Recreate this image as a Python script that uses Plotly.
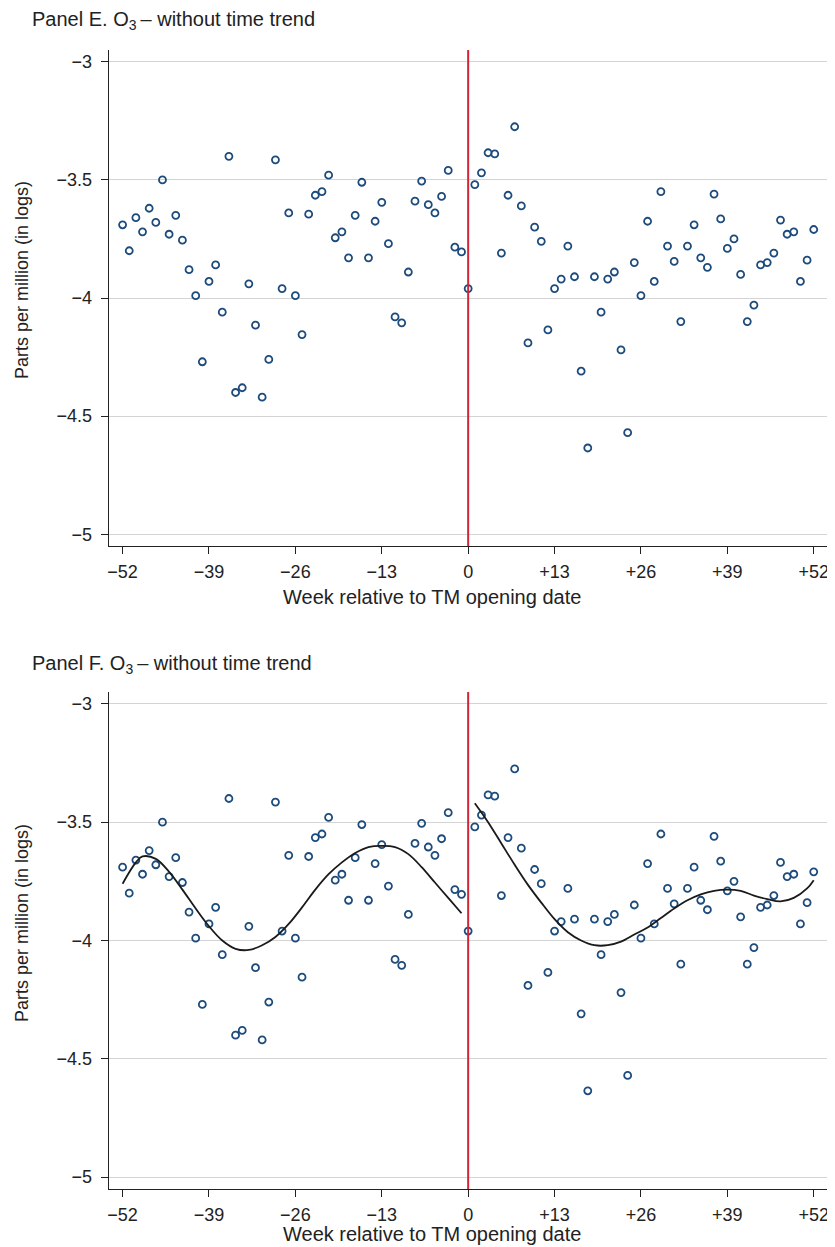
import plotly.graph_objects as go

# ---- data ----
weeks = list(range(-52, 53))
o3_log = [
    -3.69, -3.80, -3.66, -3.72, -3.62, -3.68, -3.50, -3.73, -3.65, -3.755,
    -3.88, -3.99, -4.27, -3.93, -3.86, -4.06, -3.40, -4.40, -4.38, -3.94,
    -4.115, -4.42, -4.26, -3.415, -3.96, -3.64, -3.99, -4.155, -3.645, -3.565,
    -3.55, -3.48, -3.745, -3.72, -3.83, -3.65, -3.51, -3.83, -3.675, -3.595,
    -3.77, -4.08, -4.105, -3.89, -3.59, -3.505, -3.605, -3.64, -3.57, -3.46,
    -3.785, -3.805,
    -3.96,
    -3.52, -3.47, -3.385, -3.39, -3.81, -3.565, -3.275, -3.61, -4.19, -3.70,
    -3.76, -4.135, -3.96, -3.92, -3.78, -3.91, -4.31, -4.635, -3.91, -4.06,
    -3.92, -3.89, -4.22, -4.57, -3.85, -3.99, -3.675, -3.93, -3.55, -3.78,
    -3.845, -4.10, -3.78, -3.69, -3.83, -3.87, -3.56, -3.665, -3.79, -3.75,
    -3.90, -4.10, -4.03, -3.86, -3.85, -3.81, -3.67, -3.73, -3.72, -3.93,
    -3.84, -3.71,
]

fit_pre_weeks = [-52, -50, -49, -47, -45, -43, -41, -39, -37, -35, -33, -31,
                 -29, -27, -25, -23, -21, -19, -17, -15, -13, -11, -9, -7,
                 -5, -3, -1]
fit_pre_vals = [-3.76, -3.67, -3.645, -3.655, -3.71, -3.785, -3.865, -3.94,
                -4.00, -4.035, -4.04, -4.02, -3.985, -3.93, -3.86, -3.785,
                -3.72, -3.67, -3.63, -3.605, -3.60, -3.605, -3.635, -3.69,
                -3.755, -3.82, -3.885]

fit_post_weeks = [1, 3, 5, 7, 9, 11, 13, 15, 17, 19, 21, 23, 25, 27, 29, 31,
                  33, 35, 37, 39, 41, 43, 45, 47, 49, 51, 52]
fit_post_vals = [-3.42, -3.50, -3.59, -3.68, -3.765, -3.84, -3.91, -3.965,
                 -4.00, -4.02, -4.02, -4.005, -3.975, -3.945, -3.905, -3.865,
                 -3.83, -3.805, -3.79, -3.785, -3.79, -3.81, -3.825, -3.835,
                 -3.82, -3.78, -3.745]

x_tickvals = [-52, -39, -26, -13, 0, 13, 26, 39, 52]
x_ticktext = ["\u221252", "\u221239", "\u221226", "\u221213", "0",
              "+13", "+26", "+39", "+52"]
y_tickvals = [-3, -3.5, -4, -4.5, -5]
y_ticktext = ["\u22123", "\u22123.5", "\u22124", "\u22124.5", "\u22125"]

panel_titles = ["Panel E. O<sub>3</sub>\u2009\u2013 without time trend",
                "Panel F. O<sub>3</sub>\u2009\u2013 without time trend"]
x_title = "Week relative to TM opening date"
y_title = "Parts per million (in logs)"

# ---- layout constants (page has an 8px body margin) ----
OFF = 8
W, H = 835 - OFF, 1247 - OFF
FONT = "Liberation Sans, Arial, Helvetica, sans-serif"
MARKER_COLOR = "#1c4b7c"
RED = "#d2253a"
TXT = "#222222"


def px(x):
    return (x - OFF) / W


def py(y):
    return 1 - (y - OFF) / H


x_dom = [px(108), px(829)]
y_doms = [[py(546), py(50)], [py(1189), py(692)]]
panel_dy = [0, 643]
xtitle_y = [597, 1234]

fig = go.Figure()

for i in range(2):
    xa = "x" if i == 0 else "x2"
    ya = "y" if i == 0 else "y2"
    dy = panel_dy[i]
    fig.add_trace(go.Scatter(
        x=weeks, y=o3_log, mode="markers", xaxis=xa, yaxis=ya,
        marker=dict(symbol="circle-open", size=7,
                    color=MARKER_COLOR, line=dict(width=1.8, color=MARKER_COLOR)),
        showlegend=False))
    if i == 1:
        for fx, fy in ((fit_pre_weeks, fit_pre_vals), (fit_post_weeks, fit_post_vals)):
            fig.add_trace(go.Scatter(
                x=fx, y=fy, mode="lines", xaxis=xa, yaxis=ya,
                line=dict(color="#1a1a1a", width=1.8, shape="spline", smoothing=1.0),
                showlegend=False))
    fig.add_shape(type="line", xref=xa, yref=f"{ya} domain",
                  x0=0, x1=0, y0=0, y1=1,
                  line=dict(color=RED, width=2), layer="above")
    # panel title
    fig.add_annotation(text=panel_titles[i], xref="paper", yref="paper",
                       x=px(29), y=py(21 + dy), xanchor="left", yanchor="middle",
                       showarrow=False, font=dict(family=FONT, size=20, color=TXT))
    # x axis title
    fig.add_annotation(text=x_title, xref="paper", yref="paper",
                       x=px(433), y=py(xtitle_y[i]), xanchor="center", yanchor="middle",
                       showarrow=False, font=dict(family=FONT, size=20, color=TXT))
    # y axis title
    fig.add_annotation(text=y_title, xref="paper", yref="paper", textangle=-90,
                       x=px(21), y=py(280 + dy), xanchor="center", yanchor="middle",
                       showarrow=False, font=dict(family=FONT, size=18, color=TXT))

axis_common = dict(
    showline=True, linecolor=TXT, linewidth=1.2, ticks="outside",
    ticklen=7, tickwidth=1.2, tickcolor=TXT, zeroline=False,
    tickfont=dict(family=FONT, size=18, color=TXT),
)

layout = dict(
    width=W, height=H, margin=dict(l=0, r=0, t=0, b=0),
    paper_bgcolor="white", plot_bgcolor="white",
    font=dict(family=FONT, color=TXT),
)
for i in range(2):
    sx = "" if i == 0 else "2"
    layout[f"xaxis{sx}"] = dict(
        axis_common, domain=x_dom, range=[-54.1, 54.0],
        tickvals=x_tickvals, ticktext=x_ticktext, showgrid=False,
        anchor=f"y{sx}", ticklabelstandoff=2,
    )
    layout[f"yaxis{sx}"] = dict(
        axis_common, domain=y_doms[i], range=[-5.05, -2.95],
        tickvals=y_tickvals, ticktext=y_ticktext, showgrid=True,
        gridcolor="#d4d4d4", gridwidth=1, anchor=f"x{sx}",
        ticklabelstandoff=5,
    )

fig.update_layout(**layout)
fig.write_html("out.html")
